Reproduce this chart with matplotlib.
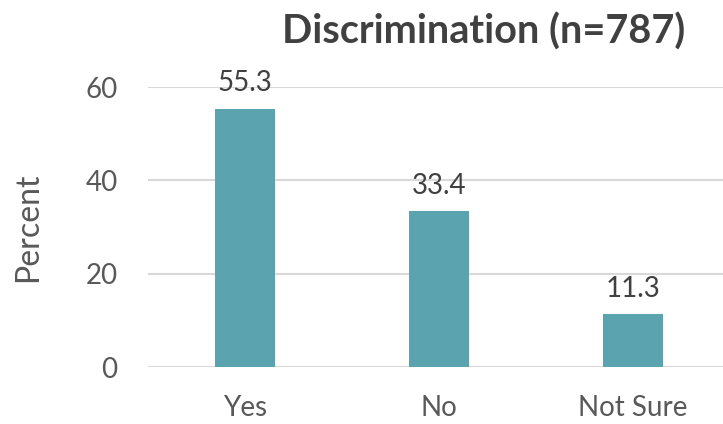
import matplotlib
matplotlib.use("Agg")
import matplotlib.pyplot as plt

categories = ["Yes", "No", "Not Sure"]
percent = [55.3, 33.4, 11.3]
y_ticks = [0, 20, 40, 60]

plt.rcParams['font.family'] = ['Lato', 'DejaVu Sans']
text_color = "#595959"
bar_color = "#5BA3AF"

fig = plt.figure(figsize=(7.23, 4.24), dpi=100)
ax = fig.add_axes([0.2047, 0.1344, 0.7953, 0.6604])

x = list(range(len(categories)))
bars = ax.bar(x, percent, width=0.314, color=bar_color, zorder=3)

for xi, v in zip(x, percent):
    ax.annotate(f"{v:.1f}", (xi, v), xytext=(0, 9), textcoords="offset points",
                ha="center", va="bottom", fontsize=20, color="#404040")

ax.set_xlim(-0.5, 2.464)
ax.set_ylim(0, 60)
ax.set_yticks(y_ticks)
ax.set_xticks(x)
ax.set_xticklabels(categories)
ax.tick_params(axis="both", length=0, labelsize=20, colors=text_color)
ax.tick_params(axis="x", pad=20)
ax.tick_params(axis="y", pad=22)
ax.yaxis.grid(True, color="#D9D9D9", linewidth=1.5, zorder=0)
ax.set_axisbelow(True)
for s in ax.spines.values():
    s.set_visible(False)

ax.set_ylabel("Percent", fontsize=23, color=text_color)
ax.yaxis.set_label_coords(-0.183, 0.5)

fig.text(0.669, 0.925, "Discrimination (n=787)", ha="center", va="center",
         fontsize=28.5, fontweight="bold", color="#404040")

fig.savefig("out.png", dpi=100)
